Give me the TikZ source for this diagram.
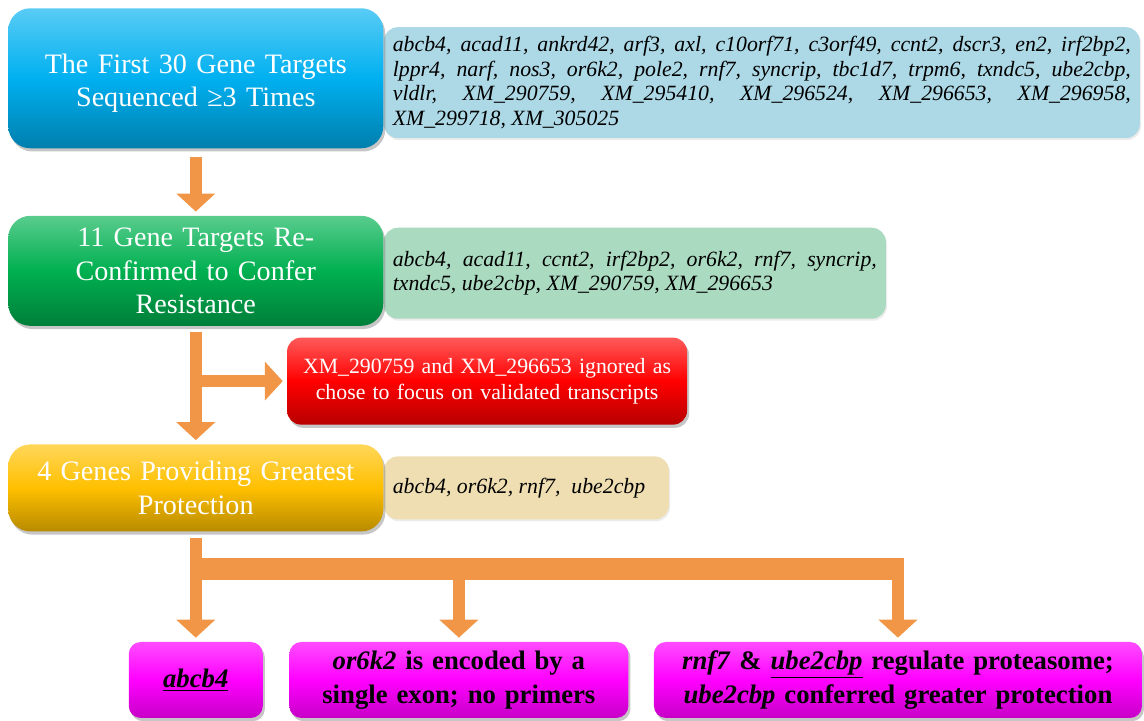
\documentclass[tikz,border=0pt]{standalone}
\usepackage{fontspec}
\setmainfont{Liberation Serif}
\usetikzlibrary{positioning,arrows.meta,shadows,backgrounds}
\tolerance=10000
\hbadness=10000

\definecolor{stepblue}{RGB}{0,176,240}
\definecolor{stepgreen}{RGB}{0,176,80}
\definecolor{stepred}{RGB}{255,0,0}
\definecolor{stepgold}{RGB}{255,192,0}
\definecolor{stepmagenta}{RGB}{255,0,255}
\definecolor{noteblue}{RGB}{173,216,230}
\definecolor{notegreen}{RGB}{170,218,192}
\definecolor{notebeige}{RGB}{238,222,178}
\definecolor{arrowcol}{RGB}{240,150,70}

\tikzset{
  stage/.style={rectangle, rounded corners=.55cm, inner sep=.1875cm,
    text width=9cm, align=center, text=white,
    font=\fontsize{20}{24}\selectfont,
    drop shadow={shadow xshift=.05cm, shadow yshift=-.08cm, opacity=.45},
    top color=#1!65!white, bottom color=#1!72!black, middle color=#1},
  note/.style={rectangle, rounded corners=.35cm, fill=#1, inner xsep=.225cm,
    align=justify, font=\fontsize{15.5}{17.5}\selectfont\itshape,
    drop shadow={shadow xshift=.03cm, shadow yshift=-.05cm, opacity=.15}},
  result/.style={rectangle, rounded corners=.3cm, minimum height=1.9cm,
    inner sep=2pt, align=center, font=\fontsize{19}{24}\selectfont\bfseries,
    drop shadow={shadow xshift=.05cm, shadow yshift=-.08cm, opacity=.45},
    top color=stepmagenta!70!white, bottom color=stepmagenta!78!black,
    middle color=stepmagenta},
  flow/.style={draw=arrowcol, line width=.3cm, shorten >=.1cm,
    -{Triangle[length=.45cm, width=.95cm]}},
}

\begin{document}
\begin{tikzpicture}
  \useasboundingbox (0,0) rectangle (28.6,-18.025);

  % Define nodes
  \node[stage=stepblue, minimum height=3.5cm, anchor=north west, text depth=.74cm] (first) at (.2,-.2)
    {The First 30 Gene Targets\\ Sequenced ≥3 Times};
  \node[stage=stepgreen, minimum height=2.75cm, below=1.675cm of first] (confirmed)
    {11 Gene Targets Re-\\ Confirmed to Confer\\ Resistance};
  \node[stage=stepgold, minimum height=2.175cm, below=2.95cm of confirmed] (greatest)
    {4 Genes Providing Greatest\\ Protection};
  \coordinate[below=1.375cm of confirmed.south] (fork);
  \node[stage=stepred, rounded corners=.35cm, text width=9.625cm, minimum height=2.175cm,
    font=\fontsize{15.5}{19}\selectfont, right=2.275cm of fork] (ignored)
    {XM\_290759 and XM\_296653 ignored as\\ chose to focus on validated transcripts};

  \node[result, text width=3.21cm, below=2.75cm of greatest] (abcb)
    {\underline{\textit{abcb4}}};
  \node[result, text width=8.335cm, right=.65cm of abcb] (single)
    {\textit{or6k2} is encoded by a\\ single exon; no primers};
  \node[result, text width=12.06cm, right=.625cm of single] (proteasome)
    {\textit{rnf7} \& \underline{\textit{ube2cbp}} regulate proteasome;\\
     \textit{ube2cbp} conferred greater protection};
  \coordinate[below=.925cm of greatest.south] (bar);

  % Gene lists behind the stages
  \begin{pgfonlayer}{background}
    \node[note=noteblue, text width=18.45cm, minimum height=2.775cm,
      right=0pt of first, yshift=-.11cm] (firstlist)
      {abcb4, acad11, ankrd42, arf3, axl, c10orf71, c3orf49, ccnt2, dscr3, en2, irf2bp2,\linebreak
       lppr4, narf, nos3, or6k2, pole2, rnf7, syncrip, tbc1d7, trpm6, txndc5, ube2cbp,\linebreak
       vldlr, XM\_290759, XM\_295410, XM\_296524, XM\_296653, XM\_296958,\linebreak
       XM\_299718, XM\_305025};
    \node[note=notegreen, text width=12.1cm, minimum height=2.275cm,
      right=0pt of confirmed, yshift=-.06cm] (confirmedlist)
      {abcb4, acad11, ccnt2, irf2bp2, or6k2, rnf7, syncrip,\linebreak
       txndc5, ube2cbp, XM\_290759, XM\_296653};
    \node[note=notebeige, text width=6.675cm, minimum height=1.575cm,
      right=0pt of greatest] (greatestlist)
      {abcb4, or6k2, rnf7, \ ube2cbp};
  \end{pgfonlayer}

  % Connect the nodes
  \draw[flow, shorten <=.2cm] (first) -- (confirmed);
  \draw[flow, shorten <=.15cm] (confirmed) -- (greatest);
  \draw[flow] (fork) -- (ignored);
  \draw[arrowcol, line width=.55cm] (bar) -- ([xshift=.15cm]bar -| proteasome);
  \draw[flow, shorten <=.15cm] (greatest) -- (abcb);
  \draw[flow] (bar -| single) -- (single);
  \draw[flow] (bar -| proteasome) -- (proteasome);
\end{tikzpicture}
\end{document}
